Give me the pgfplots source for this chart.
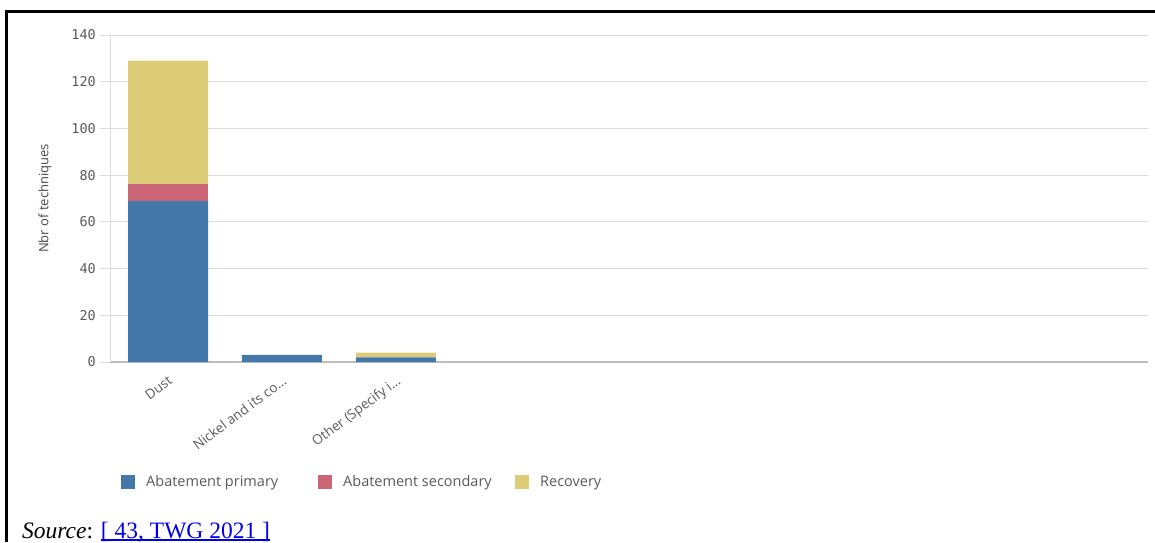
\documentclass[border=0pt]{standalone}
\usepackage{fontspec}
\setmainfont{Open Sans}
\newfontfamily\monofont{DejaVu Sans Mono}
\newfontfamily\seriffont{Liberation Serif}
\usepackage{pgfplots}
\pgfplotsset{compat=1.18}
\definecolor{cblue}{HTML}{4477AA}
\definecolor{cred}{HTML}{CC6677}
\definecolor{cyellow}{HTML}{DDCC77}
\definecolor{gridgray}{HTML}{DCDCDC}
\definecolor{axisgray}{HTML}{BDBDBD}
\definecolor{labelgray}{HTML}{595959}
\definecolor{linkblue}{HTML}{0000EE}
\pgfplotsset{mylegend/.style={legend image code/.code={\fill[##1] (0pt,-7pt) rectangle (14pt,7pt);}}}
\newcommand{\dd}{.\kern0pt.\kern0pt.}
\newcommand{\myul}[1]{\setbox0\hbox{#1}\rlap{\rule[-2.5pt]{\wd0}{1.1pt}}\box0}
\newcommand{\leg}[1]{\makebox[170pt][l]{#1}}
\begin{document}
\begin{tikzpicture}
\useasboundingbox (0pt,0pt) rectangle (1155pt,542pt);
\begin{axis}[
  at={(110pt,180pt)}, anchor=south west,
  scale only axis, width=1038pt, height=327pt,
  ymin=0, ymax=140, xmin=-0.509, xmax=8.6,
  ybar stacked, bar width=80pt,
  xtick={0,1,2},
  xticklabels={Dust, {Nickel and its co\dd}, {Other (Specify i\dd}},
  ytick={0,20,40,60,80,100,120,140},
  ymajorgrids,
  major grid style={draw=gridgray, line width=1pt},
  axis lines*=left,
  x axis line style={draw=axisgray, line width=1.5pt},
  y axis line style={draw=gridgray, line width=1pt},
  xtick style={draw=none},
  ytick style={draw=gridgray, line width=1pt},
  tick align=outside,
  major tick length=10pt,
  /pgf/number format/assume math mode=true,
  yticklabel style={font=\monofont\fontsize{13.5}{16}\selectfont, text=labelgray, inner sep=0pt, xshift=-4pt},
  xticklabel style={font=\fontsize{13.5}{16}\selectfont, text=labelgray, rotate=37, anchor=north east, inner sep=0pt, xshift=-2pt, yshift=-1.5pt},
  ylabel={Nbr of techniques},
  ylabel style={font=\fontsize{13}{15}\selectfont, text=labelgray!80!black, at={(axis description cs:-0.0626,0.5)}, anchor=center},
  legend columns=3,
  legend style={at={(axis description cs:0.0106,-0.367)}, anchor=west, draw=none, fill=none, inner sep=0pt,
    font=\fontsize{14.5}{17}\selectfont, text=labelgray,
    /tikz/every odd column/.append style={column sep=9pt},
    /tikz/every even column/.append style={column sep=0pt}},
  legend cell align=left,
]
\addplot[fill=cblue, draw=none, mylegend] coordinates {(0,69) (1,3) (2,2)};
\addlegendentry{\leg{Abatement primary}}
\addplot[fill=cred, draw=none, mylegend] coordinates {(0,7) (1,0) (2,0)};
\addlegendentry{\leg{Abatement secondary}}
\addplot[fill=cyellow, draw=none, mylegend] coordinates {(0,53) (1,0) (2,2)};
\addlegendentry{Recovery}
\end{axis}
\draw[line width=3pt] (6pt,0pt) -- (6pt,530pt) -- (1155pt,530pt);
\node[anchor=base west, inner sep=0pt, font=\seriffont\fontsize{23.5}{27}\selectfont] at (22pt,4pt)
  {\textit{Source}: \textcolor{linkblue}{\myul{[ 43, TWG 2021 ]}}};
\end{tikzpicture}
\end{document}
